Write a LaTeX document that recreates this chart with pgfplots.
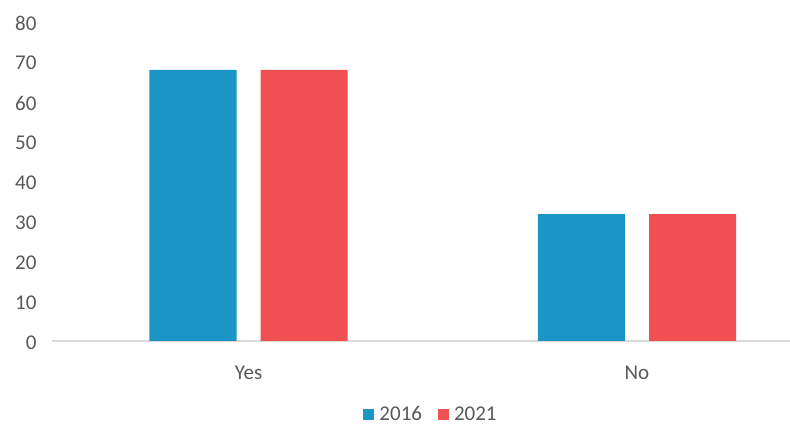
\documentclass[border=0pt]{standalone}
\usepackage{pgfplots}
\pgfplotsset{compat=1.18}
\usepackage{fontspec}
\setmainfont{Carlito}
\definecolor{cblue}{HTML}{1B95C5}
\definecolor{cred}{HTML}{F15052}
\definecolor{txt}{HTML}{595959}
\begin{document}
\begin{tikzpicture}
\useasboundingbox (0,0) rectangle (790pt,425pt);
\begin{axis}[
 at={(52pt,84pt)}, anchor=south west,
 scale only axis, width=738pt, height=320pt,
 xmin=-0.506, xmax=1.394, ymin=0, ymax=80,
 ytick={0,10,...,80},
 xtick={0,1}, xticklabels={Yes,No},
 axis lines*=left,
 y axis line style={draw=none},
 x axis line style={draw=black!15, line width=1.3pt},
 major tick length=0pt,
 ybar, bar width=0.224,
 tick label style={font=\fontsize{21}{24}\selectfont, text=txt},
 /pgf/number format/assume math mode=true,
 yticklabel style={xshift=-12pt, yshift=-2pt},
 xticklabel style={yshift=-21pt},
 legend style={at={(0.5136,-0.2300)}, anchor=center, draw=none,
   font=\fontsize{21}{24}\selectfont, text=txt,
   nodes={inner ysep=1pt},
   /tikz/every even column/.append style={column sep=14pt}},
 legend columns=2,
 legend image code/.code={\fill[#1] (0pt,-5.5pt) rectangle (11pt,5.5pt); \path (0pt,0pt) -- (14pt,0pt);},
]
\addplot[fill=cblue, draw=none, bar shift=-0.143] coordinates {(0,67.8) (1,31.7)};
\addplot[fill=cred, draw=none, bar shift=0.143] coordinates {(0,67.8) (1,31.7)};
\legend{2016,2021}
\end{axis}
\end{tikzpicture}
\end{document}
